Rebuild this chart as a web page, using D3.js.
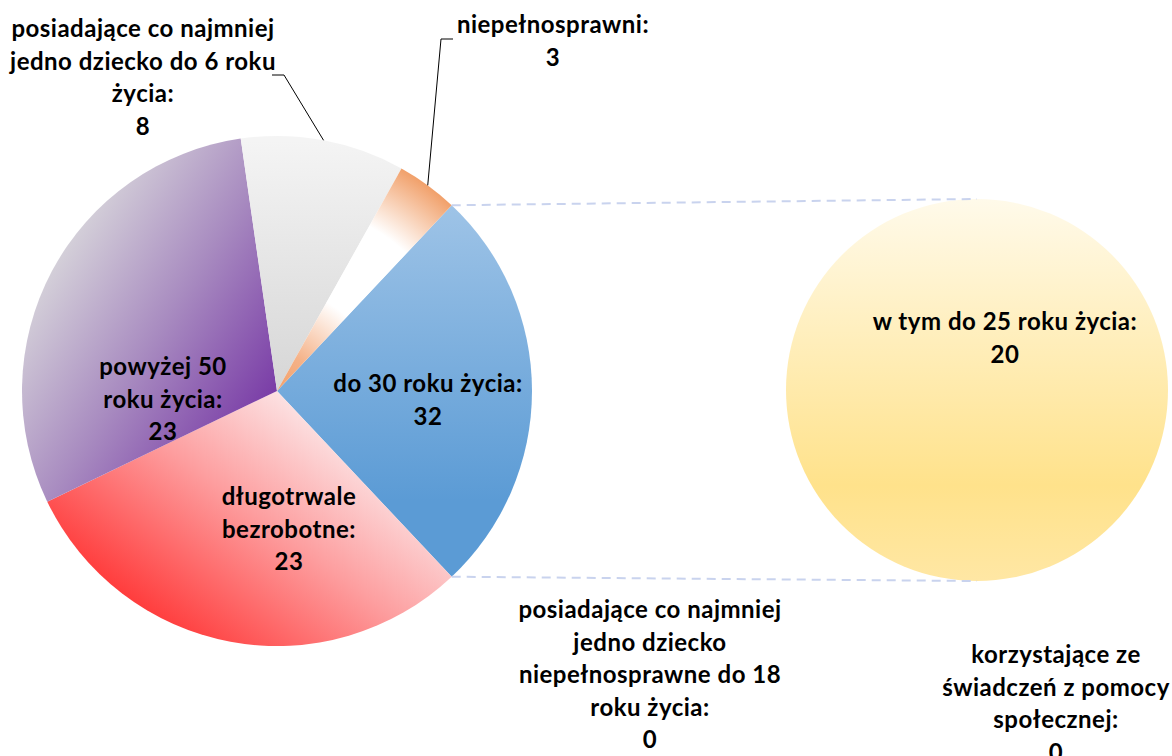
<!DOCTYPE html>
<html>
<head>
<meta charset="utf-8">
<script src="https://cdn.jsdelivr.net/npm/d3@7"></script>
<style>
  body { margin: 0; background: #fff; }
  .label {
    font-family: Lato, "Open Sans", sans-serif;
    font-weight: bold;
    font-size: 24px;
    letter-spacing: 0.5px;
    fill: #000;
    text-anchor: middle;
  }
</style>
</head>
<body>
<div id="chart"></div>
<script>
// Main pie categories (the "other" slice is added from the second pie)
var mainCategories = [
  "długotrwale bezrobotne",
  "powyżej 50 roku życia",
  "posiadające co najmniej jedno dziecko do 6 roku życia",
  "niepełnosprawni",
  "posiadające co najmniej jedno dziecko niepełnosprawne do 18 roku życia"
];
var mainValues = [23, 23, 8, 3, 0];

// the combined slice, labelled with its own value
var otherCategory = "do 30 roku życia";
var otherLabelValue = 32;

// Second pie
var subCategories = [
  "w tym do 25 roku życia",
  "korzystające ze świadczeń z pomocy społecznej"
];
var subValues = [20, 0];

var svgWidth = 1172;
var svgHeight = 756;

var mainCenter = [277, 391];
var mainRadius = 255;
var subCenter = [977, 390];
var subRadius = 191;
var lineHeight = 32.5;

var svg = d3.select("#chart")
  .append("svg")
  .attr("width", svgWidth)
  .attr("height", svgHeight);

var defs = svg.append("defs");

// gradients (coordinates relative to the pie centre)
function linearGrad(id, x1, y1, x2, y2, stops) {
  var g = defs.append("linearGradient")
    .attr("id", id)
    .attr("gradientUnits", "userSpaceOnUse")
    .attr("x1", x1).attr("y1", y1)
    .attr("x2", x2).attr("y2", y2);
  stops.forEach(function(s) {
    g.append("stop").attr("offset", s[0]).attr("stop-color", s[1]);
  });
}

linearGrad("gBlue", 0, -190, 0, 110, [[0, "#9FC4E7"], [1, "#5B9BD5"]]);
linearGrad("gRed", -150, 215, 15, -5, [[0, "#FF3838"], [0.55, "#FD9E9F"], [1, "#FCE9EA"]]);
linearGrad("gPurple", -5, 5, -225, -135, [[0, "#7A3DA7"], [0.5, "#A88BC0"], [1, "#D6D3DA"]]);
linearGrad("gGrey", 0, -250, 0, 0, [[0, "#F4F4F4"], [1, "#D6D6D6"]]);
linearGrad("gYellow", 0, -subRadius, 0, subRadius, [[0, "#FFFAEA"], [0.75, "#FFE28B"], [1, "#FFE7A4"]]);

var orange = defs.append("radialGradient")
  .attr("id", "gOrange")
  .attr("gradientUnits", "userSpaceOnUse")
  .attr("cx", 0).attr("cy", 0).attr("r", mainRadius);
[[0, "#F2A06A"], [0.15, "#F5B288"], [0.4, "#FFFFFF"], [0.74, "#FFFFFF"], [1, "#F1A06A"]].forEach(function(s) {
  orange.append("stop").attr("offset", s[0]).attr("stop-color", s[1]);
});

// Main pie: other slice first, centred on the right side
var otherTotal = d3.sum(subValues);
var pieValues = [otherTotal].concat(mainValues);
var total = d3.sum(pieValues);
var otherAngle = 2 * Math.PI * otherTotal / total;
var startAngle = Math.PI / 2 - otherAngle / 2;

var pie = d3.pie()
  .sort(null)
  .startAngle(startAngle)
  .endAngle(startAngle + 2 * Math.PI);

var mainArcs = pie(pieValues);
var fills = ["url(#gBlue)", "url(#gRed)", "url(#gPurple)", "url(#gGrey)", "url(#gOrange)", "#4472C4"];

var arc = d3.arc().innerRadius(0).outerRadius(mainRadius);

var mainGroup = svg.append("g")
  .attr("transform", `translate(${mainCenter[0]}, ${mainCenter[1]})`);

mainGroup.selectAll("path")
  .data(mainArcs)
  .enter()
  .append("path")
  .attr("d", arc)
  .attr("fill", (d, i) => fills[i]);

// Second pie
var subPie = d3.pie().sort(null);
var subArc = d3.arc().innerRadius(0).outerRadius(subRadius);

var subGroup = svg.append("g")
  .attr("transform", `translate(${subCenter[0]}, ${subCenter[1]})`);

subGroup.selectAll("path")
  .data(subPie(subValues))
  .enter()
  .append("path")
  .attr("d", subArc)
  .attr("fill", "url(#gYellow)");

// connector lines from the other slice to the second pie
function pointAt(center, r, a) {
  return [center[0] + r * Math.sin(a), center[1] - r * Math.cos(a)];
}
var otherArc = mainArcs[0];
var connectors = [
  [pointAt(mainCenter, mainRadius, otherArc.startAngle), [subCenter[0], subCenter[1] - subRadius]],
  [pointAt(mainCenter, mainRadius, otherArc.endAngle), [subCenter[0], subCenter[1] + subRadius]]
];
svg.selectAll(".connector")
  .data(connectors)
  .enter()
  .append("line")
  .attr("class", "connector")
  .attr("x1", d => d[0][0]).attr("y1", d => d[0][1])
  .attr("x2", d => d[1][0]).attr("y2", d => d[1][1])
  .attr("stroke", "#C9D3EE")
  .attr("stroke-width", 2)
  .attr("stroke-dasharray", "9,6");

// text wrapping helper
var measurer = svg.append("text").attr("class", "label").attr("visibility", "hidden");
function textWidth(s) {
  measurer.text(s);
  return measurer.node().getComputedTextLength();
}
function wrap(text, maxWidth) {
  var words = text.split(" ");
  var lines = [];
  var line = "";
  words.forEach(function(w) {
    var test = line ? line + " " + w : w;
    if (line && textWidth(test) > maxWidth) {
      lines.push(line);
      line = w;
    } else {
      line = test;
    }
  });
  lines.push(line);
  return lines;
}

// label layout: centre x, first baseline, wrap width, optional leader elbow
var labels = [
  { name: otherCategory, value: otherLabelValue, x: 428, y: 392, w: 240 },
  { name: mainCategories[0], value: mainValues[0], x: 289, y: 505, w: 160 },
  { name: mainCategories[1], value: mainValues[1], x: 163, y: 375, w: 150 },
  { name: mainCategories[2], value: mainValues[2], x: 143, y: 37, w: 290,
    leader: { slice: 3, elbow: [284, 75], end: [272, 75] } },
  { name: mainCategories[3], value: mainValues[3], x: 553, y: 33, w: 220,
    leader: { slice: 4, elbow: [441, 39], end: [453, 39] } },
  { name: mainCategories[4], value: mainValues[4], x: 650, y: 618, w: 290 },
  { name: subCategories[0], value: subValues[0], x: 1005, y: 330, w: 290 },
  { name: subCategories[1], value: subValues[1], x: 1056, y: 663, w: 230 }
];

labels.forEach(function(l) {
  var lines = wrap(l.name + ":", l.w).concat([String(l.value)]);
  var t = svg.append("text")
    .attr("class", "label")
    .attr("x", l.x)
    .attr("y", l.y);
  lines.forEach(function(s, i) {
    t.append("tspan")
      .attr("x", l.x)
      .attr("dy", i === 0 ? 0 : lineHeight)
      .text(s);
  });

  if (l.leader) {
    var a = mainArcs[l.leader.slice];
    var p = pointAt(mainCenter, mainRadius, (a.startAngle + a.endAngle) / 2);
    svg.append("polyline")
      .attr("points", [p, l.leader.elbow, l.leader.end].map(q => q.join(",")).join(" "))
      .attr("fill", "none")
      .attr("stroke", "#000")
      .attr("stroke-width", 1);
  }
});

measurer.remove();
</script>
</body>
</html>
